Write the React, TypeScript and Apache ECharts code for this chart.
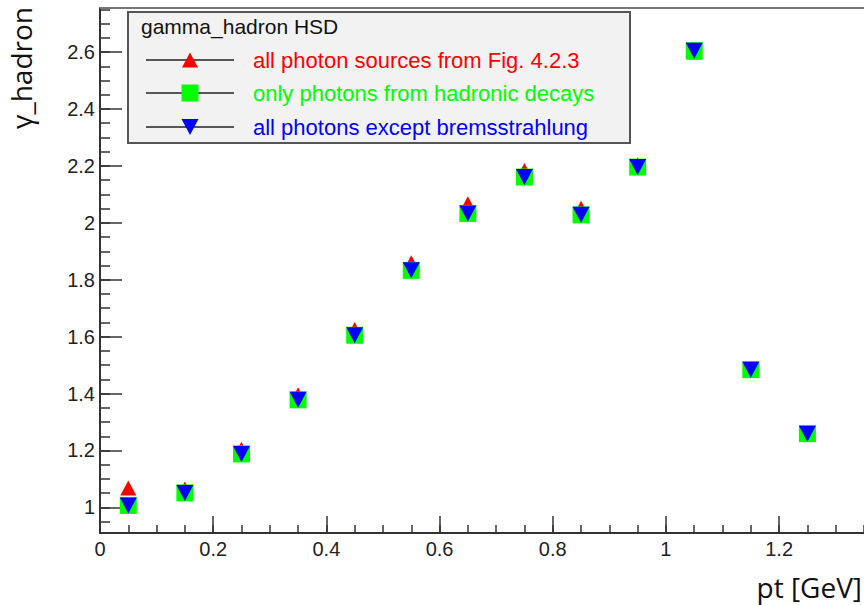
import React, { useEffect, useRef } from 'react';
import * as echarts from 'echarts';

// ---- data ----
const ptBins = [0.05, 0.15, 0.25, 0.35, 0.45, 0.55, 0.65, 0.75, 0.85, 0.95, 1.05, 1.15, 1.25];
const allSources = [1.068, 1.065, 1.204, 1.396, 1.625, 1.86, 2.067, 2.184, 2.051, 2.204, 2.6, 1.484, 1.259];
const hadronicDecays = [1.007, 1.051, 1.188, 1.378, 1.605, 1.833, 2.033, 2.161, 2.028, 2.196, 2.605, 1.484, 1.259];
const exceptBrems = [1.007, 1.051, 1.188, 1.378, 1.605, 1.833, 2.033, 2.161, 2.028, 2.196, 2.605, 1.484, 1.259];

const seriesNames = [
  'all photon sources from Fig. 4.2.3',
  'only photons from hadronic decays',
  'all photons except bremsstrahlung',
];
const seriesColors = ['#ff0000', '#00ff00', '#0000ff'];
const legendTitle = 'gamma_hadron HSD';
const xTitle = 'pt [GeV]';
const yTitle = 'γ_hadron';

const xMajorTicks = [0, 0.2, 0.4, 0.6, 0.8, 1, 1.2];
const yMajorTicks = [1, 1.2, 1.4, 1.6, 1.8, 2, 2.2, 2.4, 2.6];
const xRange = [0, 1.35];
const yRange = [0.91, 2.755];
const minorStep = 0.05;

function minorTicks(lo: number, hi: number, step: number): number[] {
  const out: number[] = [];
  const start = Math.ceil(lo / step - 1e-9);
  for (let k = start; k * step <= hi + 1e-9; k++) {
    out.push(Math.round(k * step * 1000) / 1000);
  }
  return out;
}

const AXIS_COLOR = '#333';
const LABEL_FONT = '"Liberation Sans", Arial, sans-serif';

export default function App() {
  const ref = useRef<HTMLDivElement>(null);

  useEffect(() => {
    document.body.style.margin = '0';
    if (!ref.current) return;
    const chart = echarts.init(ref.current, null, { renderer: 'svg' });

    const xMinor = minorTicks(xRange[0], xRange[1], minorStep);
    const yMinor = minorTicks(yRange[0], yRange[1], minorStep);

    const gridLeft = 100;
    const gridTop = 8;

    const legendX = 128;
    const legendY = 12;
    const rowY = [60, 93, 127];
    const lineX0 = 146;
    const lineX1 = 234;
    const markX = 190;

    const legendGraphics: any[] = [
      {
        type: 'rect',
        shape: { x: legendX, y: legendY, width: 502, height: 131 },
        style: { fill: '#f2f2f2', stroke: '#555', lineWidth: 2 },
        z: 10,
      },
      {
        type: 'text',
        x: 141,
        y: 26,
        style: {
          text: legendTitle,
          fill: '#111',
          fontSize: 21,
          fontFamily: LABEL_FONT,
          textAlign: 'left',
          textVerticalAlign: 'middle',
          align: 'left',
          verticalAlign: 'middle',
        },
        z: 11,
      },
    ];
    seriesNames.forEach((name, i) => {
      const cy = rowY[i];
      legendGraphics.push({
        type: 'line',
        shape: { x1: lineX0, y1: cy, x2: lineX1, y2: cy },
        style: { stroke: '#222', lineWidth: 1.5 },
        z: 11,
      });
      if (i === 0) {
        legendGraphics.push({
          type: 'polygon',
          shape: { points: [[markX - 8, cy + 7.5], [markX + 8, cy + 7.5], [markX, cy - 7.5]] },
          style: { fill: seriesColors[i] },
          z: 12,
        });
      } else if (i === 1) {
        legendGraphics.push({
          type: 'rect',
          shape: { x: markX - 8.5, y: cy - 8.5, width: 17, height: 17 },
          style: { fill: seriesColors[i] },
          z: 12,
        });
      } else {
        legendGraphics.push({
          type: 'polygon',
          shape: { points: [[markX - 8.5, cy - 8], [markX + 8.5, cy - 8], [markX, cy + 8]] },
          style: { fill: seriesColors[i] },
          z: 12,
        });
      }
      legendGraphics.push({
        type: 'text',
        x: 253,
        y: cy,
        style: {
          text: name,
          fill: seriesColors[i],
          fontSize: 22,
          fontFamily: LABEL_FONT,
          textAlign: 'left',
          textVerticalAlign: 'middle',
          align: 'left',
          verticalAlign: 'middle',
        },
        z: 12,
      });
    });

    const titleGraphics: any[] = [
      {
        type: 'line',
        shape: { x1: gridLeft, y1: gridTop, x2: 864, y2: gridTop },
        style: { stroke: '#777', lineWidth: 2 },
        z: 5,
      },
      {
        type: 'text',
        x: 21,
        y: 7,
        rotation: Math.PI / 2,
        style: {
          text: yTitle,
          fill: '#111',
          fontSize: 28,
          fontFamily: '"Open Sans", "Noto Sans", sans-serif',
          textAlign: 'right',
          textVerticalAlign: 'middle',
          align: 'right',
          verticalAlign: 'middle',
        },
      },
      {
        type: 'text',
        x: 862,
        y: 587,
        style: {
          text: xTitle,
          fill: '#111',
          fontSize: 28,
          fontFamily: '"Open Sans", "Noto Sans", sans-serif',
          textAlign: 'right',
          textVerticalAlign: 'middle',
          align: 'right',
          verticalAlign: 'middle',
        },
      },
    ];

    const labelStyle = {
      fontSize: 20,
      color: '#222',
      fontFamily: LABEL_FONT,
    };

    const option: any = {
      animation: false,
      backgroundColor: '#ffffff',
      grid: { left: gridLeft, right: 0, top: gridTop, bottom: 72, containLabel: false },
      xAxis: [
        {
          type: 'value',
          min: xRange[0],
          max: xRange[1],
          position: 'bottom',
          axisLine: { show: true, onZero: false, lineStyle: { color: AXIS_COLOR, width: 2 } },
          axisTick: {
            show: true,
            inside: true,
            length: 17,
            customValues: xMajorTicks,
            lineStyle: { color: AXIS_COLOR, width: 1.5 },
          },
          axisLabel: { ...labelStyle, customValues: xMajorTicks, margin: 6 },
          splitLine: { show: false },
        },
        {
          type: 'value',
          min: xRange[0],
          max: xRange[1],
          position: 'bottom',
          axisLine: { show: false },
          axisTick: {
            show: true,
            inside: true,
            length: 8,
            customValues: xMinor,
            lineStyle: { color: AXIS_COLOR, width: 1.5 },
          },
          axisLabel: { show: false },
          splitLine: { show: false },
        },
      ],
      yAxis: [
        {
          type: 'value',
          min: yRange[0],
          max: yRange[1],
          position: 'left',
          axisLine: { show: true, onZero: false, lineStyle: { color: AXIS_COLOR, width: 2 } },
          axisTick: {
            show: true,
            inside: true,
            length: 22,
            customValues: yMajorTicks,
            lineStyle: { color: AXIS_COLOR, width: 1.5 },
          },
          axisLabel: { ...labelStyle, customValues: yMajorTicks, margin: 5 },
          splitLine: { show: false },
        },
        {
          type: 'value',
          min: yRange[0],
          max: yRange[1],
          position: 'left',
          axisLine: { show: false },
          axisTick: {
            show: true,
            inside: true,
            length: 10,
            customValues: yMinor,
            lineStyle: { color: AXIS_COLOR, width: 1.5 },
          },
          axisLabel: { show: false },
          splitLine: { show: false },
        },
      ],
      series: [
        {
          name: seriesNames[0],
          type: 'scatter',
          xAxisIndex: 0,
          yAxisIndex: 0,
          symbol: 'triangle',
          symbolSize: [16, 15],
          itemStyle: { color: seriesColors[0], opacity: 1 },
          data: ptBins.map((x, i) => [x, allSources[i]]),
          z: 2,
        },
        {
          name: seriesNames[1],
          type: 'scatter',
          xAxisIndex: 0,
          yAxisIndex: 0,
          symbol: 'rect',
          symbolSize: 17,
          itemStyle: { color: seriesColors[1], opacity: 1 },
          data: ptBins.map((x, i) => [x, hadronicDecays[i]]),
          z: 3,
        },
        {
          name: seriesNames[2],
          type: 'scatter',
          xAxisIndex: 0,
          yAxisIndex: 0,
          symbol: 'triangle',
          symbolRotate: 180,
          symbolSize: [17, 16],
          itemStyle: { color: seriesColors[2], opacity: 1 },
          data: ptBins.map((x, i) => [x, exceptBrems[i]]),
          z: 4,
        },
      ],
      graphic: [...titleGraphics, ...legendGraphics],
    };

    chart.setOption(option);
    return () => chart.dispose();
  }, []);

  return <div ref={ref} style={{ width: 864, height: 605 }} />;
}
